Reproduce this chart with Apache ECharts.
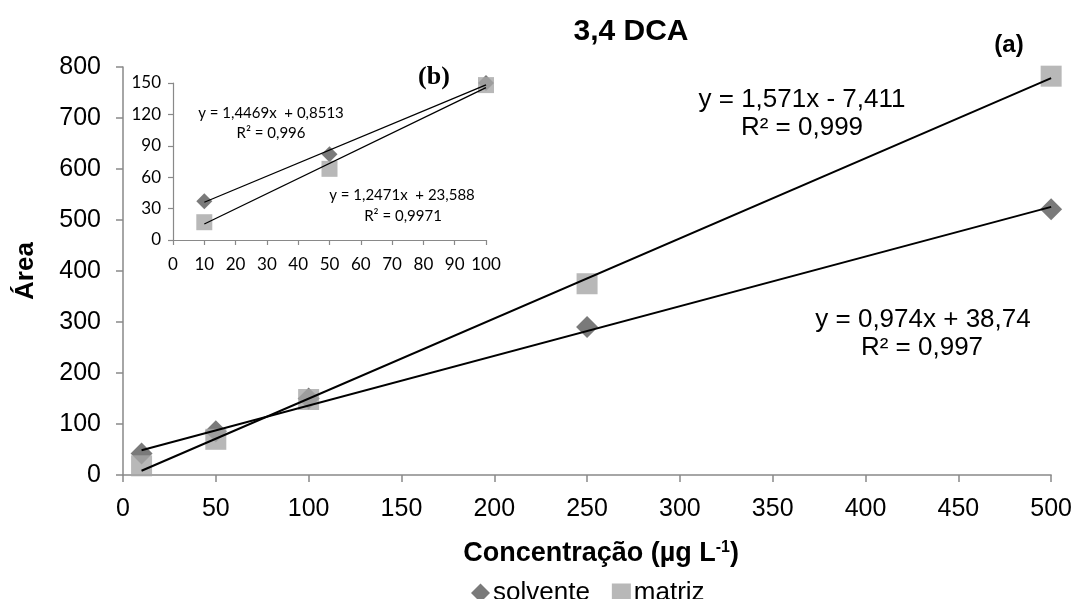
<!DOCTYPE html>
<html>
<head>
<meta charset="utf-8">
<script src="https://cdn.jsdelivr.net/npm/echarts@6/dist/echarts.min.js"></script>
<style>
html,body{margin:0;padding:0;background:#fff;}
#chart{width:1075px;height:599px;}
</style>
</head>
<body>
<div id="chart"></div>
<script>
// ---- data (main chart a) ----
var concMain = [10, 50, 100, 250, 500];
var solventeMain = [42, 86, 150, 290, 521];
var matrizMain = [18, 70, 148, 375, 782];
// ---- data (inset b) ----
var concInset = [10, 50, 100];
var solventeInset = [37, 82, 150];
var matrizInset = [17, 68, 148];
// ---- trendline coefficients [slope, intercept] ----
var trendSolventeMain = [0.974, 38.74];
var trendMatrizMain = [1.571, -7.411];
var trendSolventeInset = [1.2471, 23.588];
var trendMatrizInset = [1.4469, 0.8513];
// ---- labels ----
var titleText = '3,4 DCA';
var eqMatrizMain = ['y = 1,571x - 7,411', 'R² = 0,999'];
var eqSolventeMain = ['y = 0,974x + 38,74', 'R² = 0,997'];
var eqMatrizInset = ['y = 1,4469x  + 0,8513', 'R² = 0,996'];
var eqSolventeInset = ['y = 1,2471x  + 23,588', 'R² = 0,9971'];
var mainXTicks = [0, 50, 100, 150, 200, 250, 300, 350, 400, 450, 500];
var mainYTicks = [0, 100, 200, 300, 400, 500, 600, 700, 800];

function pairs(xs, ys) { return xs.map(function (x, i) { return [x, ys[i]]; }); }
function trend(c, xs) {
  var x0 = xs[0], x1 = xs[xs.length - 1];
  return [[x0, c[0] * x0 + c[1]], [x1, c[0] * x1 + c[1]]];
}

var F = 'Liberation Sans, Arial, sans-serif';
var FI = 'Lato, Liberation Sans, sans-serif';
var axisGray = '#898989';
var cSolv = '#595959';
var cMat = '#a6a6a6';

var chart = echarts.init(document.getElementById('chart'), null, {renderer: 'canvas'});

function txt(text, x, y, font, extra) {
  var o = {type: 'text', x: x, y: y, z: 100,
    style: {text: text, font: font, fill: '#000', align: 'center', verticalAlign: 'middle'}};
  if (extra) { for (var k in extra) o.style[k] = extra[k]; }
  return o;
}

var option = {
  backgroundColor: '#fff',
  animation: false,
  title: {
    text: titleText, left: 626, top: 12, textAlign: 'center',
    textStyle: {fontFamily: F, fontWeight: 'bold', fontSize: 30, color: '#000'}
  },
  legend: {
    data: [{name: 'solvente', icon: 'diamond'}, {name: 'matriz', icon: 'rect'}],
    left: 466, top: 575, itemWidth: 19, itemHeight: 19, itemGap: 22,
    textStyle: {fontFamily: F, fontSize: 26, color: '#000', padding: [0, 0, 0, -2]}
  },
  grid: [
    {left: 123, right: 22, top: 67, bottom: 124},
    {left: 173, right: 589, top: 83, bottom: 359}
  ],
  xAxis: [
    {
      type: 'value', gridIndex: 0, min: 0, max: 500, interval: 50,
      name: '{a|Concentração (µg L}{s|-1}{a|)}',
      nameLocation: 'middle', nameGap: 65,
      nameTextStyle: {padding: [0, 0, 0, 28], rich: {
        a: {fontFamily: F, fontWeight: 'bold', fontSize: 27, color: '#000'},
        s: {fontFamily: F, fontWeight: 'bold', fontSize: 16, color: '#000', verticalAlign: 'top', padding: [0, 0, 10, 0]}
      }},
      axisLine: {show: true, onZero: false, lineStyle: {color: axisGray, width: 1.5}},
      axisTick: {show: true, length: 7, lineStyle: {color: axisGray, width: 1.5}},
      axisLabel: {fontFamily: F, fontSize: 25, color: '#000', margin: 22},
      splitLine: {show: false}
    },
    {
      type: 'value', gridIndex: 1, min: 0, max: 100, interval: 10,
      axisLine: {show: true, onZero: false, lineStyle: {color: axisGray, width: 1.2}},
      axisTick: {show: true, length: 5, lineStyle: {color: axisGray, width: 1.2}},
      axisLabel: {fontFamily: FI, fontSize: 17, color: '#000', margin: 16},
      splitLine: {show: false}
    }
  ],
  yAxis: [
    {
      type: 'value', gridIndex: 0, min: 0, max: 800, interval: 100,
      name: 'Área', nameLocation: 'middle', nameGap: 84, nameRotate: 90,
      nameTextStyle: {fontFamily: F, fontWeight: 'bold', fontSize: 26, color: '#000'},
      axisLine: {show: true, lineStyle: {color: axisGray, width: 1.5}},
      axisTick: {show: true, length: 7, lineStyle: {color: axisGray, width: 1.5}},
      axisLabel: {fontFamily: F, fontSize: 25, color: '#000', margin: 22},
      splitLine: {show: false}
    },
    {
      type: 'value', gridIndex: 1, min: 0, max: 150, interval: 30,
      axisLine: {show: true, lineStyle: {color: axisGray, width: 1.2}},
      axisTick: {show: true, length: 5, lineStyle: {color: axisGray, width: 1.2}},
      axisLabel: {fontFamily: FI, fontSize: 17, color: '#000', margin: 12},
      splitLine: {show: false}
    }
  ],
  series: [
    {name: 'solvente', type: 'scatter', xAxisIndex: 0, yAxisIndex: 0, symbol: 'diamond', symbolSize: 22,
      itemStyle: {color: cSolv}, data: pairs(concMain, solventeMain), z: 2},
    {name: 'matriz', type: 'scatter', xAxisIndex: 0, yAxisIndex: 0, symbol: 'rect', symbolSize: 21,
      itemStyle: {color: cMat}, data: pairs(concMain, matrizMain), z: 3},
    {name: 'trend solvente', type: 'line', xAxisIndex: 0, yAxisIndex: 0, showSymbol: false, symbol: 'none',
      lineStyle: {color: '#000', width: 2}, data: trend(trendSolventeMain, concMain), z: 5},
    {name: 'trend matriz', type: 'line', xAxisIndex: 0, yAxisIndex: 0, showSymbol: false, symbol: 'none',
      lineStyle: {color: '#000', width: 2}, data: trend(trendMatrizMain, concMain), z: 5},
    {name: 'solvente (b)', type: 'scatter', xAxisIndex: 1, yAxisIndex: 1, symbol: 'diamond', symbolSize: 16,
      itemStyle: {color: cSolv}, data: pairs(concInset, solventeInset), z: 2},
    {name: 'matriz (b)', type: 'scatter', xAxisIndex: 1, yAxisIndex: 1, symbol: 'rect', symbolSize: 16,
      itemStyle: {color: cMat}, data: pairs(concInset, matrizInset), z: 3},
    {name: 'trend solvente (b)', type: 'line', xAxisIndex: 1, yAxisIndex: 1, showSymbol: false, symbol: 'none',
      lineStyle: {color: '#000', width: 1.3}, data: trend(trendSolventeInset, concInset), z: 5},
    {name: 'trend matriz (b)', type: 'line', xAxisIndex: 1, yAxisIndex: 1, showSymbol: false, symbol: 'none',
      lineStyle: {color: '#000', width: 1.3}, data: trend(trendMatrizInset, concInset), z: 5}
  ],
  graphic: [
    txt('(a)', 1009, 45, 'bold 24px ' + F),
    txt('(b)', 434, 77, 'bold 26px "Liberation Serif", "Times New Roman", serif'),
    txt(eqMatrizMain[0], 802, 100, '26px ' + F),
    txt(eqMatrizMain[1], 802, 128, '26px ' + F),
    txt(eqSolventeMain[0], 923, 320, '26px ' + F),
    txt(eqSolventeMain[1], 922, 348, '26px ' + F),
    txt(eqMatrizInset[0], 271, 113, '15px ' + FI),
    txt(eqMatrizInset[1], 271, 133, '15px ' + FI),
    txt(eqSolventeInset[0], 402, 195, '15px ' + FI),
    txt(eqSolventeInset[1], 403, 216, '15px ' + FI)
  ]
};
chart.setOption(option);
</script>
</body>
</html>
